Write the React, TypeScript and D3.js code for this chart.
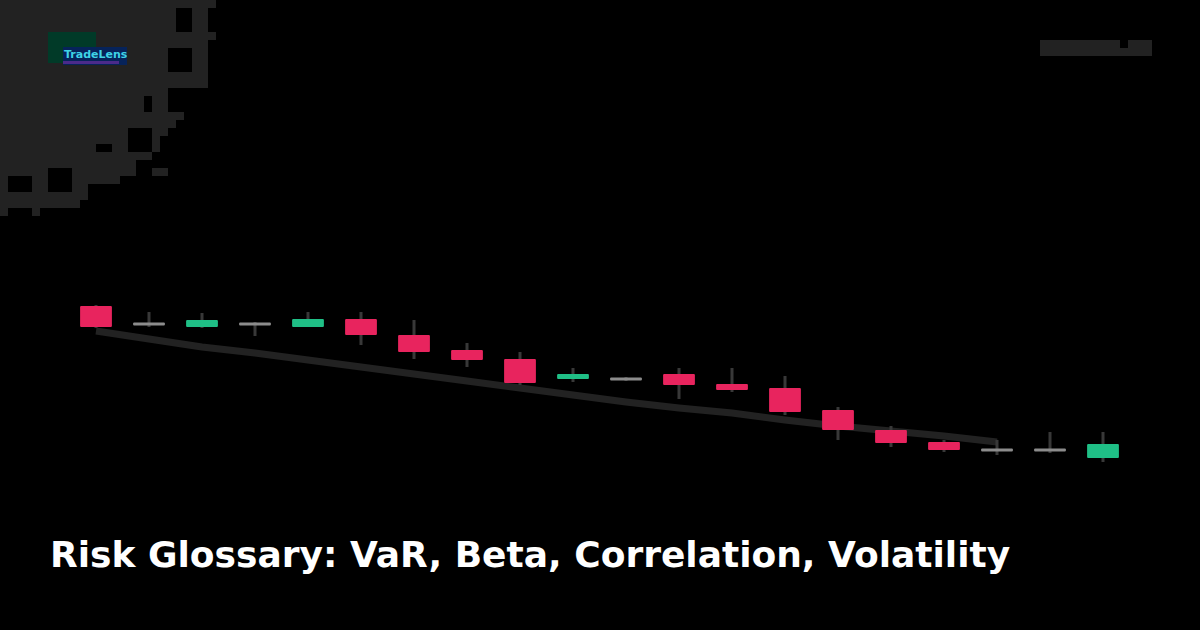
import * as d3 from "d3";
import React, { useEffect, useRef } from "react";

// candle values (arbitrary price units)
const opens = [164, 146, 143, 146, 143, 151, 135, 120, 111, 91, 91, 96, 86, 82, 60, 40, 28, 20, 20, 12];
const highs = [165, 158, 157, 148, 158, 158, 150, 127, 118, 102, 93, 102, 102, 94, 63, 44, 30, 30, 38, 38];
const lows = [142, 143, 142, 134, 143, 125, 111, 103, 85, 88, 89, 71, 78, 55, 30, 23, 18, 15, 17, 8];
const closes = [143, 146, 150, 146, 151, 135, 118, 110, 87, 96, 91, 85, 80, 58, 40, 27, 20, 20, 20, 26];
// trend line, one value per candle (null = not drawn)
const trend = [139, 131, 123, 117, 110, 103, 96, 89, 82, 75, 68, 62, 57, 50, 44, 39, 34, 28, null, null];

const title = "Risk Glossary: VaR, Beta, Correlation, Volatility";
const logoText = "TradeLens";

// corner decoration: [y0, y1, xRight] rows and black holes [x, y, w, h]
const cornerRows = [
  [0, 8, 216], [8, 32, 208], [32, 40, 216], [40, 88, 208], [88, 112, 168],
  [112, 120, 184], [120, 128, 176], [128, 136, 168], [136, 152, 160], [152, 160, 152],
  [160, 176, 136], [176, 184, 120], [184, 200, 88], [200, 208, 80], [208, 216, 8],
];
const cornerHoles = [
  [176, 8, 16, 24], [168, 48, 24, 24], [144, 96, 8, 16], [128, 128, 24, 24],
  [96, 144, 16, 8], [48, 168, 24, 24], [8, 176, 24, 16],
];
const cornerExtra = [[152, 168, 16, 8], [32, 208, 8, 8]];

const W = 1200;
const H = 630;

export default function App() {
  const ref = useRef<SVGSVGElement | null>(null);

  useEffect(() => {
    if (!ref.current) return;
    const svg = d3.select(ref.current);
    svg.selectAll("*").remove();

    svg.append("rect").attr("width", W).attr("height", H).attr("fill", "#000");

    // pixel corner pattern
    const corner = svg.append("g").attr("fill", "#222");
    corner.selectAll("rect.row")
      .data(cornerRows)
      .join("rect")
      .attr("class", "row")
      .attr("x", 0)
      .attr("y", d => d[0])
      .attr("width", d => d[2])
      .attr("height", d => d[1] - d[0]);
    corner.selectAll("rect.extra")
      .data(cornerExtra)
      .join("rect")
      .attr("class", "extra")
      .attr("x", d => d[0]).attr("y", d => d[1])
      .attr("width", d => d[2]).attr("height", d => d[3]);
    corner.selectAll("rect.hole")
      .data(cornerHoles)
      .join("rect")
      .attr("class", "hole")
      .attr("fill", "#000")
      .attr("x", d => d[0]).attr("y", d => d[1])
      .attr("width", d => d[2]).attr("height", d => d[3]);

    // logo
    svg.append("rect").attr("x", 48).attr("y", 32).attr("width", 48).attr("height", 31).attr("fill", "#013a28");
    svg.append("rect").attr("x", 63).attr("y", 47).attr("width", 64).attr("height", 18).attr("fill", "#06235a");
    svg.append("rect").attr("x", 63).attr("y", 61).attr("width", 56).attr("height", 3).attr("fill", "#4b2a8a");
    svg.append("text")
      .attr("x", 64).attr("y", 58)
      .attr("fill", "#3fd3e6")
      .attr("font-family", "DejaVu Sans, sans-serif")
      .attr("font-size", 11)
      .attr("font-weight", "bold")
      .text(logoText);

    // top right block
    svg.append("path")
      .attr("d", "M1040,40H1120V48H1128V40H1152V56H1040Z")
      .attr("fill", "#222");

    // chart
    const idx = d3.range(opens.length);
    const x = d3.scaleBand<number>().domain(idx).range([69.5, 1129.5]).paddingInner(0.4).paddingOuter(0.2);
    const y = d3.scaleLinear().domain([0, 170]).range([470, 300]);
    const cx = (i: number) => (x(i) ?? 0) + x.bandwidth() / 2;

    const line = d3.line<number | null>()
      .defined(d => d !== null)
      .x((_, i) => cx(i))
      .y(d => y(d as number));
    svg.append("path")
      .datum(trend)
      .attr("d", line)
      .attr("fill", "none")
      .attr("stroke", "#222")
      .attr("stroke-width", 7);

    const g = svg.append("g");
    const candles = g.selectAll("g.candle").data(idx).join("g").attr("class", "candle");

    candles.append("line")
      .attr("x1", i => cx(i)).attr("x2", i => cx(i))
      .attr("y1", i => y(highs[i])).attr("y2", i => y(lows[i]))
      .attr("stroke", "#383838")
      .attr("stroke-width", 3);

    const color = (i: number) =>
      closes[i] > opens[i] ? "#1fbf86" : closes[i] < opens[i] ? "#e8245e" : "#8c8c8c";

    candles.append("rect")
      .attr("x", i => x(i) ?? 0)
      .attr("width", x.bandwidth())
      .attr("y", i => (opens[i] === closes[i] ? y(opens[i]) - 1.5 : y(Math.max(opens[i], closes[i]))))
      .attr("height", i => (opens[i] === closes[i] ? 3 : Math.abs(y(opens[i]) - y(closes[i]))))
      .attr("fill", color)
      .attr("rx", 1);

    // title
    svg.append("text")
      .attr("x", 50).attr("y", 567)
      .attr("fill", "#fff")
      .attr("font-family", "DejaVu Sans, sans-serif")
      .attr("font-weight", "bold")
      .attr("font-size", 36)
      .text(title);
  }, []);

  return (
    <div style={{ position: "fixed", left: 0, top: 0 }}>
      <svg ref={ref} width={W} height={H} style={{ display: "block" }}></svg>
    </div>
  );
}
